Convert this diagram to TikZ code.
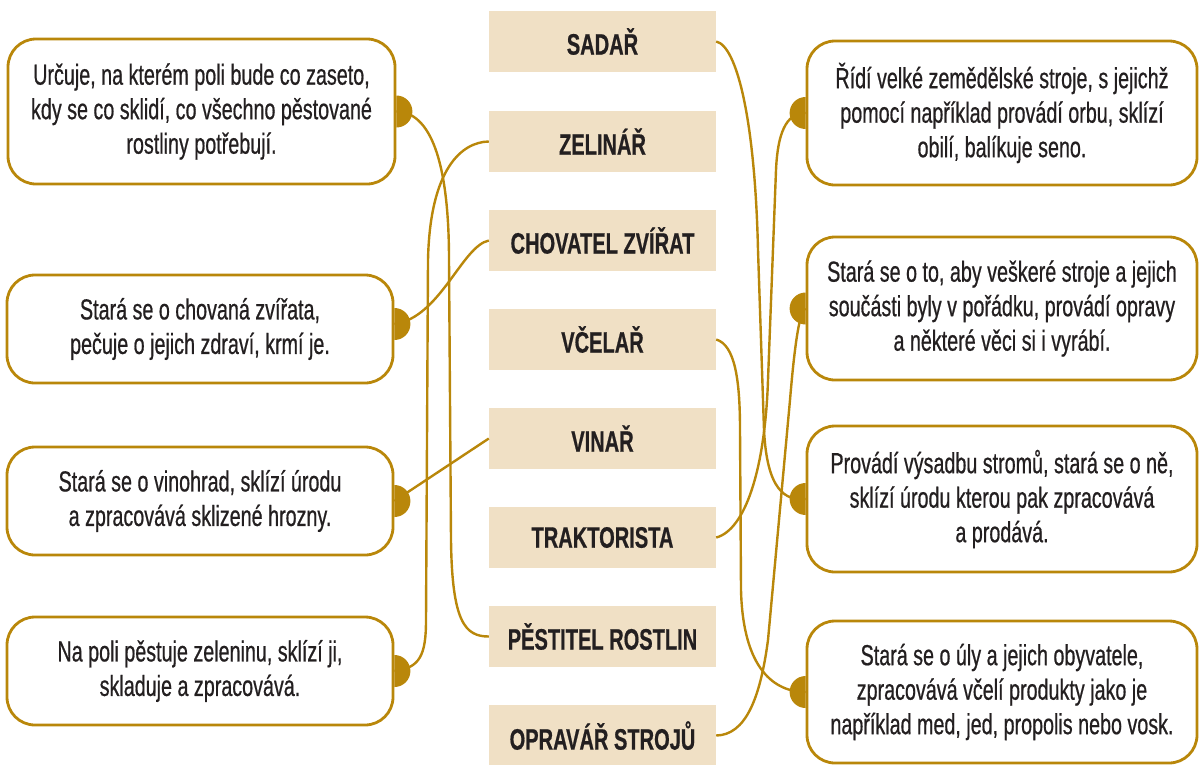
\documentclass[tikz,border=0pt]{standalone}
\usepackage{fontspec}
\setmainfont[FakeStretch=0.68,FakeBold=0.6]{Liberation Sans}
\usetikzlibrary{calc}
\definecolor{gold}{RGB}{185,135,10}
\definecolor{beige}{RGB}{240,224,197}
\definecolor{ink}{RGB}{35,31,32}
\begin{document}
\begin{tikzpicture}[x=1pt,y=-1pt,
  desc/.style={draw=gold, line width=2.8pt, rounded corners=28pt, fill=white, align=center, text=ink,
    font=\fontsize{29}{34.5}\selectfont, inner sep=0pt},
  job/.style={fill=beige, minimum width=227pt, minimum height=61pt, text=ink, inner sep=0pt,
    font=\bfseries\fontsize{29.5}{30}\selectfont},
  link/.style={draw=gold, line width=2.4pt},
]
\useasboundingbox (0,0) rectangle (1199,764);

% left description boxes
\node[desc, minimum width=387pt, minimum height=145pt] (L1) at (201.5,111.5)
  {Určuje, na kterém poli bude co zaseto,\\kdy se co sklidí, co všechno pěstované\\rostliny potřebují.};
\node[desc, minimum width=386pt, minimum height=108pt] (L2) at (200,329)
  {Stará se o chovaná zvířata,\\pečuje o jejich zdraví, krmí je.};
\node[desc, minimum width=386pt, minimum height=108pt] (L3) at (200,501)
  {Stará se o vinohrad, sklízí úrodu\\a zpracovává sklizené hrozny.};
\node[desc, minimum width=386pt, minimum height=108pt] (L4) at (200,671)
  {Na poli pěstuje zeleninu, sklízí ji,\\skladuje a zpracovává.};

% right description boxes
\node[desc, minimum width=390pt, minimum height=144pt] (R1) at (1002,113)
  {Řídí velké zemědělské stroje, s jejichž\\pomocí například provádí orbu, sklízí\\obilí, balíkuje seno.};
\node[desc, minimum width=390pt, minimum height=143pt] (R2) at (1002,308.5)
  {Stará se o to, aby veškeré stroje a jejich\\součásti byly v pořádku, provádí opravy\\a některé věci si i vyrábí.};
\node[desc, minimum width=390pt, minimum height=146pt] (R3) at (1002,499)
  {Provádí výsadbu stromů, stará se o ně,\\sklízí úrodu kterou pak zpracovává\\a prodává.};
\node[desc, minimum width=390pt, minimum height=142pt] (R4) at (1002,692)
  {Stará se o úly a jejich obyvatele,\\zpracovává včelí produkty jako je\\například med, jed, propolis nebo vosk.};

% centre job boxes
\node[job] (S) at (602.5,41.5) {SADAŘ};
\node[job] (Z) at (602.5,141.5) {ZELINÁŘ};
\node[job] (C) at (602.5,240.5) {CHOVATEL ZVÍŘAT};
\node[job] (V) at (602.5,339.5) {VČELAŘ};
\node[job] (W) at (602.5,438.5) {VINAŘ};
\node[job] (T) at (602.5,537.5) {TRAKTORISTA};
\node[job] (P) at (602.5,636.5) {PĚSTITEL ROSTLIN};
\node[job] (O) at (602.5,735.5) {OPRAVÁŘ STROJŮ};

\coordinate (L2d) at ($(L2.east)+(0,-5)$);

% connectors, left side
\draw[link] (L1.east) .. controls (430,112) and (449,160) .. (449,260)
  -- (451,540) .. controls (452,622) and (465,636.5) .. (P.west);
\draw[link] (Z.west) .. controls (462,142) and (430,168) .. (428,260)
  -- (426,620) .. controls (426,655) and (420,668) .. (L4.east);
\draw[link] (C.west) .. controls (462,246) and (440,318) .. (L2d);
\draw[link] (W.west) -- (L3.east);

% connectors, right side
\draw[link] (S.east) .. controls (737,46) and (755,120) .. (758,250)
  -- (764,430) .. controls (767,490) and (785,501) .. (R3.west);
\draw[link] (T.east) .. controls (745,530) and (765,470) .. (768,380)
  -- (776,170) .. controls (778,125) and (790,113) .. (R1.west);
\draw[link] (V.east) .. controls (735,345) and (740,380) .. (740,430)
  -- (741,590) .. controls (743,670) and (775,692) .. (R4.west);
\draw[link] (O.east) .. controls (745,735) and (760,700) .. (768,640)
  -- (790,400) .. controls (795,340) and (800,310) .. (R2.west);

% half-disc dots
\foreach \n in {L1,L3,L4} {
  \fill[gold] ($(\n.east)+(0,-16)$) arc[start angle=90, end angle=-90, radius=16pt] -- cycle;
}
\fill[gold] ($(L2d)+(0,-16)$) arc[start angle=90, end angle=-90, radius=16pt] -- cycle;
\foreach \n in {R1,R2,R3,R4} {
  \fill[gold] ($(\n.west)+(0,-16)$) arc[start angle=90, end angle=270, radius=16pt] -- cycle;
}
\end{tikzpicture}
\end{document}
